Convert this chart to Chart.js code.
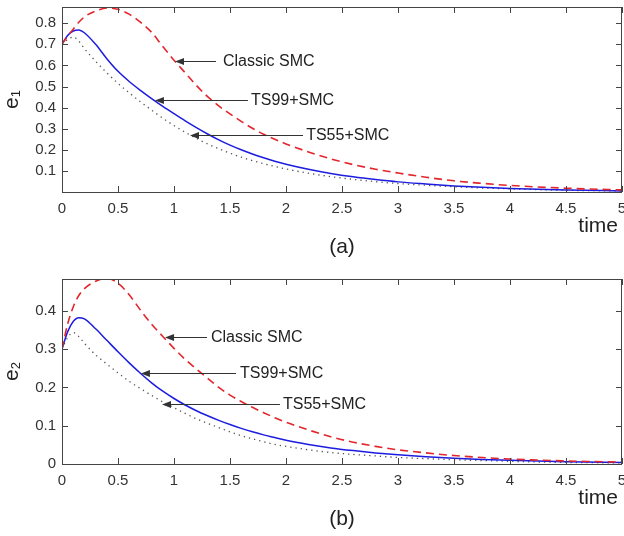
<!DOCTYPE html>
<html>
<head>
<meta charset="utf-8">
<script src="https://cdn.jsdelivr.net/npm/chart.js@4.4.1/dist/chart.umd.min.js"></script>
<style>
html, body { margin: 0; padding: 0; background: #fff; }
#wrap { position: relative; width: 624px; height: 536px; }
canvas { position: absolute; left: 0; }
#c1 { top: 0; }
#c2 { top: 268px; }
</style>
</head>
<body>
<div id="wrap">
  <canvas id="c1" width="624" height="262"></canvas>
  <canvas id="c2" width="624" height="268"></canvas>
</div>
<script>
// sample times (s)
var time = [0, 0.05, 0.1, 0.15, 0.2, 0.3, 0.4, 0.5, 0.6, 0.7, 0.8, 0.9, 1.0, 1.1, 1.2, 1.3, 1.4, 1.5, 1.6, 1.7,
            1.8, 1.9, 2.0, 2.2, 2.4, 2.6, 2.8, 3.0, 3.25, 3.5, 3.75, 4.0, 4.5, 5.0];

// e1
var e1Classic = [0.70, 0.738, 0.772, 0.805, 0.83, 0.858, 0.872, 0.866, 0.843, 0.805, 0.757, 0.69, 0.625, 0.565, 0.505, 0.452, 0.408, 0.37, 0.335, 0.302,
                 0.274, 0.25, 0.228, 0.19, 0.157, 0.13, 0.108, 0.09, 0.07, 0.053, 0.041, 0.031, 0.018, 0.01];
var e1Ts99 = [0.70, 0.742, 0.763, 0.768, 0.755, 0.70, 0.632, 0.572, 0.524, 0.482, 0.443, 0.406, 0.371, 0.337, 0.305, 0.275, 0.247, 0.222, 0.2, 0.18,
              0.162, 0.146, 0.132, 0.108, 0.088, 0.072, 0.059, 0.048, 0.038, 0.029, 0.022, 0.017, 0.01, 0.005];
var e1Ts55 = [0.70, 0.722, 0.735, 0.715, 0.68, 0.62, 0.565, 0.515, 0.47, 0.428, 0.388, 0.35, 0.315, 0.283, 0.254, 0.228, 0.205, 0.184, 0.165, 0.149,
              0.134, 0.121, 0.109, 0.089, 0.073, 0.06, 0.049, 0.04, 0.032, 0.025, 0.019, 0.015, 0.008, 0.005];

// e2
var e2Classic = [0.30, 0.365, 0.41, 0.44, 0.458, 0.477, 0.485, 0.472, 0.442, 0.402, 0.365, 0.333, 0.302, 0.273, 0.248, 0.224, 0.2, 0.18, 0.163, 0.148,
                 0.134, 0.121, 0.109, 0.089, 0.071, 0.057, 0.046, 0.037, 0.029, 0.022, 0.017, 0.013, 0.008, 0.005];
var e2Ts99 = [0.30, 0.345, 0.372, 0.382, 0.379, 0.353, 0.323, 0.293, 0.264, 0.237, 0.212, 0.19, 0.171, 0.154, 0.139, 0.126, 0.114, 0.103, 0.093, 0.084,
              0.076, 0.069, 0.062, 0.051, 0.042, 0.035, 0.029, 0.024, 0.019, 0.015, 0.012, 0.01, 0.006, 0.004];
var e2Ts55 = [0.30, 0.33, 0.343, 0.333, 0.315, 0.285, 0.261, 0.238, 0.216, 0.197, 0.179, 0.162, 0.147, 0.132, 0.118, 0.106, 0.095, 0.084, 0.074, 0.066,
              0.058, 0.051, 0.046, 0.037, 0.03, 0.025, 0.021, 0.017, 0.014, 0.011, 0.009, 0.007, 0.004, 0.003];

var seriesNames = ['Classic SMC', 'TS99+SMC', 'TS55+SMC'];
var xTicks = [0, 0.5, 1, 1.5, 2, 2.5, 3, 3.5, 4, 4.5, 5];
var e1Ticks = [0.1, 0.2, 0.3, 0.4, 0.5, 0.6, 0.7, 0.8];
var e2Ticks = [0, 0.1, 0.2, 0.3, 0.4];
var e1Max = 0.877;
var e2Max = 0.483;

// arrow notes: tip (x,y) in data units, tail x, text x
var notesE1 = [
    { label: 0, tip: [1.009, 0.619], tail: 1.375, text: 1.4375 },
    { label: 1, tip: [0.83, 0.4355], tail: 1.66, text: 1.6875 },
    { label: 2, tip: [1.143, 0.271], tail: 2.152, text: 2.18 }
];
var notesE2 = [
    { label: 0, tip: [0.92, 0.3316], tail: 1.295, text: 1.33 },
    { label: 1, tip: [0.705, 0.238], tail: 1.554, text: 1.59 },
    { label: 2, tip: [0.893, 0.1567], tail: 1.946, text: 1.973 }
];

var FONT = '"Liberation Sans", Arial, sans-serif';

function pts(ys) {
    return time.map(function(t, i) { return { x: t, y: ys[i] }; });
}

function tickText(v) {
    return String(Math.round(v * 10) / 10);
}

var decor = {
    id: 'decor',
    afterDraw: function(chart, args, o) {
        var ctx = chart.ctx, a = chart.chartArea;
        var xs = chart.scales.x, ys = chart.scales.y;
        ctx.save();

        // box and inward ticks
        ctx.strokeStyle = '#444';
        ctx.lineWidth = 1;
        ctx.beginPath();
        xTicks.forEach(function(v) {
            var px = Math.round(xs.getPixelForValue(v)) + 0.5;
            ctx.moveTo(px, a.bottom); ctx.lineTo(px, a.bottom - 6);
            ctx.moveTo(px, a.top); ctx.lineTo(px, a.top + 6);
        });
        o.yTicks.forEach(function(v) {
            var py = Math.round(ys.getPixelForValue(v)) + 0.5;
            ctx.moveTo(a.left, py); ctx.lineTo(a.left + 6, py);
            ctx.moveTo(a.right, py); ctx.lineTo(a.right - 6, py);
        });
        ctx.stroke();
        ctx.strokeRect(Math.round(a.left) + 0.5, Math.round(a.top) + 0.5,
                       Math.round(a.right - a.left) - 1, Math.round(a.bottom - a.top));

        // arrows and their labels
        ctx.strokeStyle = '#333';
        ctx.fillStyle = '#333';
        o.notes.forEach(function(n) {
            var tx = xs.getPixelForValue(n.tip[0]);
            var ty = Math.round(ys.getPixelForValue(n.tip[1])) + 0.5;
            var ex = xs.getPixelForValue(n.tail);
            ctx.beginPath();
            ctx.moveTo(ex, ty); ctx.lineTo(tx + 6, ty);
            ctx.stroke();
            ctx.beginPath();
            ctx.moveTo(tx, ty); ctx.lineTo(tx + 9, ty - 3.5); ctx.lineTo(tx + 9, ty + 3.5);
            ctx.closePath();
            ctx.fill();
            ctx.font = '16px ' + FONT;
            ctx.textAlign = 'left';
            ctx.textBaseline = 'middle';
            ctx.fillStyle = '#222';
            ctx.fillText(seriesNames[n.label], xs.getPixelForValue(n.text), ty);
            ctx.fillStyle = '#333';
        });

        // y label with subscript
        ctx.fillStyle = '#222';
        ctx.save();
        ctx.translate(18, (a.top + a.bottom) / 2);
        ctx.rotate(-Math.PI / 2);
        ctx.textBaseline = 'alphabetic';
        ctx.font = '21px ' + FONT;
        var we = ctx.measureText('e').width;
        ctx.font = '13px ' + FONT;
        var ws = ctx.measureText(o.sub).width;
        var x0 = -(we + ws) / 2;
        ctx.font = '21px ' + FONT;
        ctx.textAlign = 'left';
        ctx.fillText('e', x0, 0);
        ctx.font = '13px ' + FONT;
        ctx.fillText(o.sub, x0 + we, 2);
        ctx.restore();

        // axis name and panel tag
        ctx.font = '21px ' + FONT;
        ctx.textAlign = 'right';
        ctx.textBaseline = 'alphabetic';
        ctx.fillText('time', 618, a.bottom + 40);
        ctx.textAlign = 'center';
        ctx.textBaseline = 'middle';
        ctx.fillText(o.tag, (a.left + a.right) / 2, a.bottom + 55);
        ctx.restore();
    }
};

function makeChart(id, classic, ts99, ts55, yMax, yTicks, notes, sub, tag, padTop, xHeight) {
    var ctx = document.getElementById(id).getContext('2d');
    return new Chart(ctx, {
        type: 'line',
        data: {
            datasets: [
                {
                    label: seriesNames[0],
                    data: pts(classic),
                    borderColor: '#e3262b',
                    borderWidth: 1.6,
                    borderDash: [8, 5],
                    pointRadius: 0,
                    cubicInterpolationMode: 'monotone'
                },
                {
                    label: seriesNames[1],
                    data: pts(ts99),
                    borderColor: '#1c1ce0',
                    borderWidth: 1.5,
                    pointRadius: 0,
                    cubicInterpolationMode: 'monotone'
                },
                {
                    label: seriesNames[2],
                    data: pts(ts55),
                    borderColor: '#555',
                    borderWidth: 1.3,
                    borderDash: [1.3, 4],
                    pointRadius: 0,
                    cubicInterpolationMode: 'monotone'
                }
            ]
        },
        options: {
            responsive: false,
            animation: false,
            layout: { padding: { top: padTop, right: 2, left: 0, bottom: 0 } },
            plugins: {
                legend: { display: false },
                tooltip: { enabled: false },
                decor: { yTicks: yTicks, notes: notes, sub: sub, tag: tag }
            },
            scales: {
                x: {
                    type: 'linear',
                    min: 0,
                    max: 5,
                    grid: { display: false, drawTicks: false },
                    border: { display: false },
                    ticks: { padding: 8, color: '#333', font: { family: FONT, size: 15 }, callback: tickText },
                    afterBuildTicks: function(scale) {
                        scale.ticks = xTicks.map(function(v) { return { value: v }; });
                    },
                    afterFit: function(scale) {
                        scale.height = xHeight;
                        scale.paddingLeft = 0;
                        scale.paddingRight = 0;
                    }
                },
                y: {
                    min: 0,
                    max: yMax,
                    grid: { display: false, drawTicks: false },
                    border: { display: false },
                    ticks: { padding: 6, color: '#333', font: { family: FONT, size: 15 }, callback: tickText },
                    afterBuildTicks: function(scale) {
                        scale.ticks = yTicks.map(function(v) { return { value: v }; });
                    },
                    afterFit: function(scale) {
                        scale.width = 62;
                        scale.paddingTop = 0;
                        scale.paddingBottom = 0;
                    }
                }
            }
        },
        plugins: [decor]
    });
}

makeChart('c1', e1Classic, e1Ts99, e1Ts55, e1Max, e1Ticks, notesE1, '1', '(a)', 7, 70);
makeChart('c2', e2Classic, e2Ts99, e2Ts55, e2Max, e2Ticks, notesE2, '2', '(b)', 11, 72);
</script>
</body>
</html>
